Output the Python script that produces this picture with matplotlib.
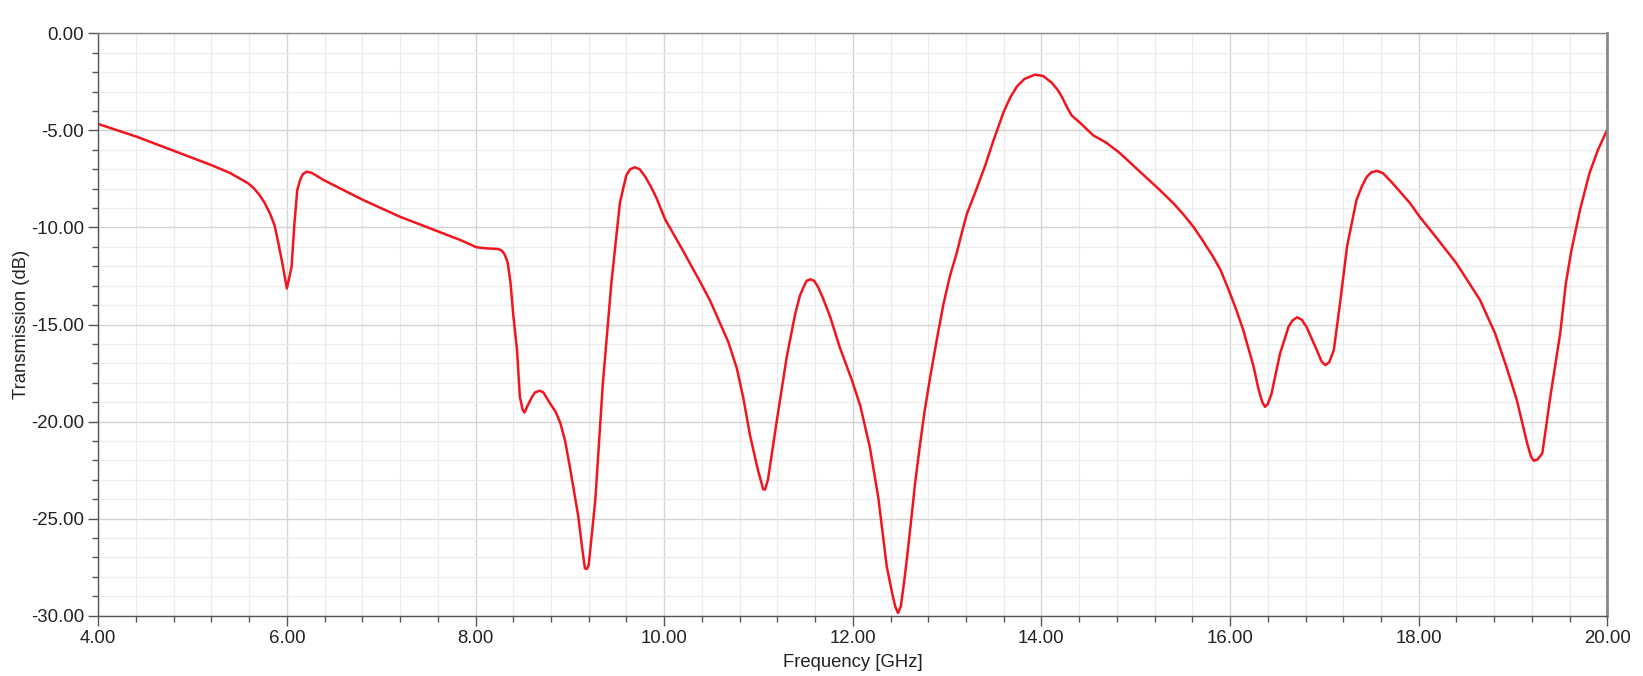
import matplotlib
matplotlib.use("Agg")
import matplotlib.pyplot as plt
from matplotlib.ticker import MultipleLocator, FormatStrFormatter

plt.rcParams['font.family'] = ['Liberation Sans', 'DejaVu Sans']

freq_ghz = [4.00, 4.41, 4.80, 5.20, 5.40, 5.59, 5.65, 5.71, 5.76, 5.82, 5.87, 5.91, 5.95, 6.00,
            6.05, 6.08, 6.11, 6.14, 6.17, 6.21, 6.26, 6.32, 6.39, 6.81,
            7.20, 7.61, 7.84, 8.01, 8.10, 8.24, 8.28, 8.31, 8.34, 8.37, 8.40, 8.44, 8.47, 8.50,
            8.52, 8.55, 8.60, 8.63, 8.68, 8.72, 8.79, 8.85, 8.90,
            8.95, 9.00, 9.09, 9.13, 9.16, 9.18, 9.20, 9.27, 9.35, 9.44, 9.53, 9.57, 9.60, 9.64, 9.69,
            9.74, 9.80, 9.86, 9.92, 10.01, 10.20, 10.39, 10.49,
            10.59, 10.68, 10.77, 10.84, 10.91, 10.98, 11.00, 11.05, 11.07, 11.10, 11.19, 11.30,
            11.39, 11.44, 11.48, 11.51, 11.55, 11.59, 11.63, 11.68, 11.76,
            11.86, 11.99, 12.08, 12.18, 12.27, 12.36, 12.42, 12.45, 12.48, 12.51, 12.55, 12.58,
            12.62, 12.66, 12.71, 12.76, 12.82, 12.89,
            12.96, 13.03, 13.10, 13.16, 13.21, 13.30, 13.40, 13.49, 13.60, 13.67, 13.74, 13.82,
            13.93, 14.02, 14.11, 14.17, 14.22, 14.27, 14.32,
            14.41, 14.55, 14.68, 14.82, 15.12, 15.25, 15.40, 15.50, 15.61, 15.70, 15.82, 15.90,
            16.00, 16.07, 16.14, 16.25, 16.30, 16.34,
            16.37, 16.40, 16.44, 16.53, 16.62, 16.66, 16.71, 16.76, 16.81, 16.92, 16.97, 17.01,
            17.05, 17.10, 17.17, 17.24, 17.34, 17.40,
            17.45, 17.50, 17.56, 17.62, 17.71, 17.91, 18.01, 18.20, 18.40, 18.50, 18.65, 18.81,
            18.93, 19.04, 19.15, 19.19, 19.22, 19.26,
            19.31, 19.35, 19.39, 19.50, 19.56, 19.62, 19.71, 19.81, 19.90, 20.00]

transmission_db = [-4.67, -5.33, -6.05, -6.79, -7.20, -7.73, -7.98, -8.33, -8.70, -9.27, -9.90,
                   -10.82, -11.80, -13.14, -12.02, -9.80, -8.07, -7.55, -7.25, -7.13, -7.18,
                   -7.35, -7.56, -8.59, -9.45, -10.22, -10.65, -11.02, -11.07, -11.11, -11.20,
                   -11.40, -11.80, -12.80, -14.50, -16.32, -18.72, -19.40, -19.53, -19.20,
                   -18.72, -18.50, -18.41, -18.50, -19.06, -19.50, -20.09, -21.00, -22.33,
                   -24.90, -26.50,
                   -27.56, -27.60, -27.39, -24.04, -18.03, -12.88, -8.76, -7.90, -7.30, -7.00,
                   -6.90, -7.00, -7.39, -7.90, -8.50, -9.58, -11.20, -12.88, -13.80,
                   -14.90, -15.90, -17.25, -18.80, -20.70, -22.20, -22.60, -23.49, -23.50,
                   -23.01, -20.09, -16.66, -14.43, -13.50, -13.05, -12.75, -12.67, -12.75,
                   -13.05, -13.60, -14.60, -16.15, -17.86, -19.20, -21.30, -23.90, -27.47,
                   -28.90, -29.53, -29.86, -29.50, -28.03, -26.80, -25.03, -23.20, -21.28,
                   -19.50, -17.72, -15.80, -13.97, -12.50, -11.35, -10.20, -9.29, -8.17, -6.86,
                   -5.54, -4.04, -3.30, -2.74, -2.35, -2.13, -2.20, -2.55, -2.90, -3.30, -3.80,
                   -4.23, -4.61, -5.26, -5.61, -6.12, -7.47, -8.05, -8.76, -9.30, -9.96,
                   -10.60, -11.51, -12.20, -13.40, -14.30, -15.29, -17.18, -18.30, -18.98,
                   -19.24, -19.10, -18.55, -16.49, -15.12, -14.80, -14.63, -14.75, -15.12,
                   -16.32, -16.90, -17.09, -16.95, -16.32, -13.74, -10.99, -8.59, -7.85,
                   -7.39, -7.15, -7.09, -7.20, -7.65, -8.76, -9.45, -10.60, -11.85, -12.60,
                   -13.74, -15.46, -17.18, -18.89, -21.12, -21.80, -22.02, -21.95, -21.64,
                   -20.30, -18.89, -15.46, -12.88, -11.16, -9.10, -7.21, -6.01, -4.95]

fig = plt.figure(figsize=(16.43, 6.76), dpi=100)
ax = fig.add_axes([0.0598, 0.0892, 0.9185, 0.8615])

ax.plot(freq_ghz, transmission_db, color='#f2141e', linewidth=1.8,
        solid_joinstyle='round', solid_capstyle='round')

ax.set_xlim(4, 20)
ax.set_ylim(-30, 0)
ax.xaxis.set_major_locator(MultipleLocator(2))
ax.xaxis.set_minor_locator(MultipleLocator(0.4))
ax.yaxis.set_major_locator(MultipleLocator(5))
ax.yaxis.set_minor_locator(MultipleLocator(1))
ax.xaxis.set_major_formatter(FormatStrFormatter('%.2f'))
ax.yaxis.set_major_formatter(FormatStrFormatter('%.2f'))

ax.grid(which='major', color='#d4d4d4', linewidth=1.0)
ax.grid(which='minor', color='#ececec', linewidth=0.9)
ax.set_axisbelow(True)

ax.tick_params(which='major', direction='out', length=7, width=1, color='#555555',
               labelsize=13.4, labelcolor='#222222', pad=3)
ax.tick_params(which='minor', direction='out', length=4, width=1, color='#555555')

for s in ['left', 'bottom']:
    ax.spines[s].set_color('#555555')
    ax.spines[s].set_linewidth(1.0)
ax.spines['top'].set_color('#888888')
ax.spines['top'].set_linewidth(1.0)
ax.spines['right'].set_color('#888888')
ax.spines['right'].set_linewidth(2.0)

ax.set_xlabel('Frequency [GHz]', fontsize=13.3, color='#222222', labelpad=5)
ax.set_ylabel('Transmission (dB)', fontsize=13.3, color='#222222', labelpad=1)

fig.savefig('out.png', dpi=100, facecolor='white')
